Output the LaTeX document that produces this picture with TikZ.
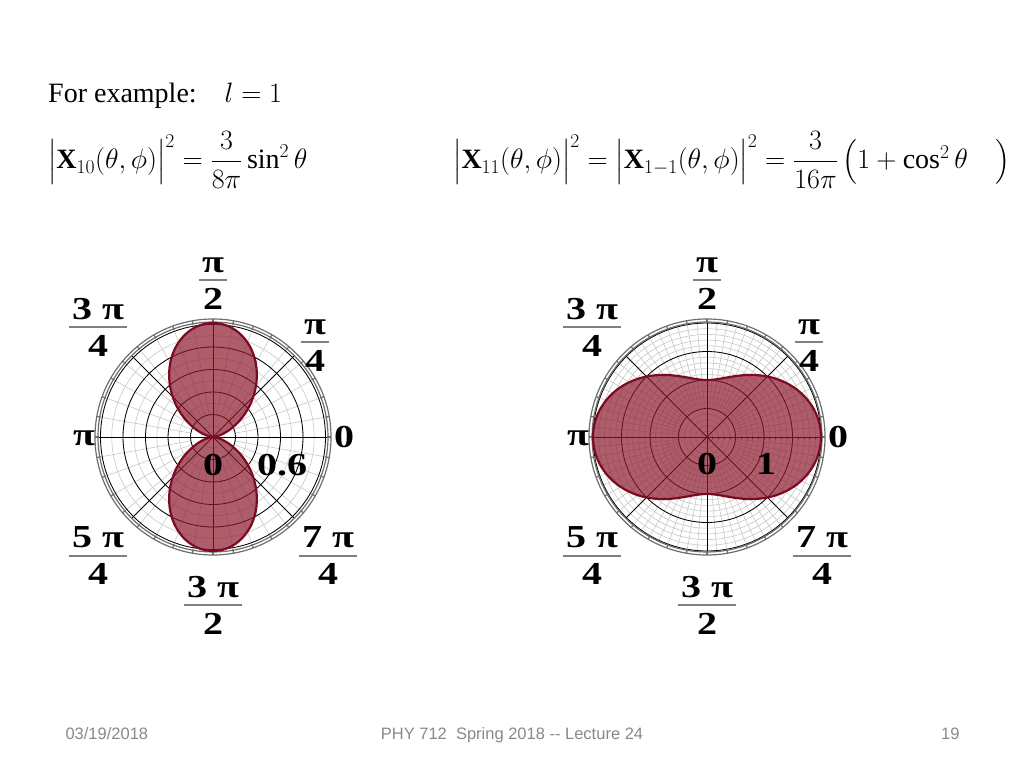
\RequirePackage{fix-cm}
\documentclass[tikz,border=0pt]{standalone}
\usepackage{amsmath}
\usepackage{fontspec}
\setmainfont{Liberation Serif}
\setsansfont{Liberation Sans}
\newfontfamily\plotfont[FakeStretch=1.25]{Liberation Serif}
\usepackage{xcolor}
\definecolor{lobefill}{RGB}{140,25,45}
\definecolor{lobeline}{RGB}{125,10,35}
\definecolor{gridgray}{RGB}{200,200,200}
\definecolor{rimgray}{RGB}{110,110,110}
\definecolor{bargray}{RGB}{128,128,128}
\definecolor{footgray}{RGB}{137,137,137}
\usepackage{tikz}

\tikzset{
  minorgrid/.style={gridgray, line width=0.6pt},
  majorgrid/.style={black, line width=0.8pt},
  rim/.style={rimgray, line width=1.2pt},
  lobe/.style={draw=lobeline, line width=2.2pt, fill=lobefill, fill opacity=0.7},
  anglab/.style={font=\plotfont\bfseries\fontsize{32}{37}\selectfont, align=center, inner xsep=3pt, inner ysep=0pt},
  fracbar/.style={bargray, line width=1.5pt},
  foot/.style={font=\sffamily\fontsize{16.5}{19}\selectfont, text=footgray},
  eqn/.style={font=\fontsize{28}{34}\selectfont, anchor=west, inner sep=0pt}
}

% tall bars and parens of the formulas
\newcommand{\tallstrut}{\rule[-14pt]{0pt}{42pt}}

% grid of one polar plot: minor step, minor count, major step, major count, spoke step
\newcommand{\polarframe}[5]{%
  \foreach \k in {1,...,#2} \draw[minorgrid] (0,0) circle ({\k*#1});
  \pgfmathtruncatemacro{\nsp}{360/#5-1}
  \foreach \k in {0,...,\nsp} \draw[minorgrid] ({\k*#5}:#3) -- ({\k*#5}:115);
  \foreach \k in {1,...,#4} \draw[majorgrid] (0,0) circle ({\k*#3});
  \foreach \a in {0,45,...,315} \draw[majorgrid] (0,0) -- (\a:115);
  \draw[rim] (0,0) circle (115) (0,0) circle (118);
  \foreach \a in {0,10,...,350} \draw[rim] (\a:114) -- (\a:118);
}

% angle labels round one polar plot
\newcommand{\anglabels}[1]{%
  \node[anglab] (#1a0) at (131,0) {0};
  \node[anglab] (#1a45) at (102,95) {\vphantom{3}π\\4};
  \node[anglab] (#1a90) at (0,157) {\vphantom{3}π\\2};
  \node[anglab] (#1a135) at (-115,110) {3 π\\4};
  \node[anglab] (#1a180) at (-129,-1) {π};
  \node[anglab] (#1a225) at (-115,-119) {5 π\\4};
  \node[anglab] (#1a270) at (0,-168) {3 π\\2};
  \node[anglab] (#1a315) at (115,-119) {7 π\\4};
  \foreach \n in {45,90,135,225,270,315}
    \draw[fracbar] (#1a\n.west) -- (#1a\n.east);
}

\begin{document}
\begin{tikzpicture}[x=1pt, y=1pt]
  \fill[white] (0,0) rectangle (1024,768);
  \useasboundingbox (0,0) rectangle (1024,768);

  % formulas
  \node[anchor=base west, inner sep=0pt, font=\fontsize{28}{34}\selectfont] (intro) at (48,665) {For example:\quad $l=1$};
  \node[eqn] (eqzero) at (48,608) {$\left|\tallstrut\mathbf{X}_{10}(\theta,\phi)\right|^{2}=\dfrac{3}{8\pi}\sin^{2}\theta$};
  \node[eqn] (eqone) at (453,608) {$\left|\tallstrut\mathbf{X}_{11}(\theta,\phi)\right|^{2}=\left|\tallstrut\mathbf{X}_{1-1}(\theta,\phi)\right|^{2}=\dfrac{3}{16\pi}\left(\tallstrut 1+\cos^{2}\theta\quad\right)$};

  % m = 0
  \begin{scope}[shift={(213,331)}]
    \polarframe{11.25}{10}{22.5}{5}{10}
    \draw[lobe] plot[domain=0:360, samples=181] (\x:{114*sin(\x)*sin(\x)}) -- cycle;
    \anglabels{L}
    \node[anglab] (Lr0) at (0,-28) {0};
    \node[anglab] (Lr6) at (69,-28) {0.6};
  \end{scope}

  % m = +-1
  \begin{scope}[shift={(707,331)}]
    \polarframe{5.7}{20}{28.5}{4}{5}
    \foreach \k in {1,...,20} \draw[majorgrid, line width=0.5pt] (\k*5.7,0) -- (\k*5.7,-2.5);
    \draw[lobe] plot[domain=0:360, samples=181] (\x:{57*(1+cos(\x)*cos(\x))}) -- cycle;
    \anglabels{R}
    \node[anglab] (Rr0) at (0,-27) {0};
    \node[anglab] (Rr1) at (59,-27) {1};
  \end{scope}

  % footer
  \node[foot, anchor=base west] (date) at (62,29) {03/19/2018};
  \node[foot, anchor=base] (title) at (512,29) {PHY 712\ \ Spring 2018 -{}- Lecture 24};
  \node[foot, anchor=base east] (page) at (963,29) {19};
\end{tikzpicture}
\end{document}
